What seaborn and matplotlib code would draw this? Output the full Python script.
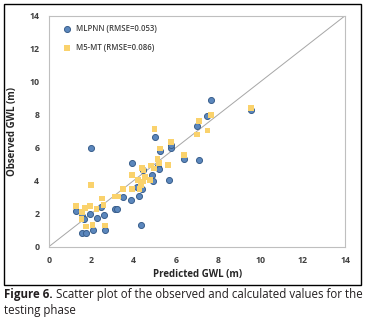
import matplotlib
matplotlib.use("Agg")
import matplotlib.pyplot as plt
import numpy as np
import pandas as pd
import seaborn as sns
from matplotlib.patches import Rectangle

# MLPNN (RMSE=0.053): predicted vs observed
mlp_pred = [1.28, 1.56, 1.67, 1.54, 1.75, 1.94, 1.97, 2.06, 2.27, 2.45, 2.58, 2.65,
            3.12, 3.21, 3.48, 3.89, 3.94, 4.14, 4.25, 4.36, 4.41, 4.46, 4.85, 4.93,
            4.99, 5.13, 5.20, 5.26, 5.65, 5.76, 5.76, 6.39, 6.99, 7.09, 7.48, 7.64, 9.56]
mlp_obs = [2.14, 1.84, 1.68, 0.85, 0.85, 1.96, 5.98, 1.03, 1.74, 2.42, 1.90, 1.01,
           2.28, 2.28, 3.01, 2.81, 5.07, 3.60, 3.09, 1.29, 3.49, 4.65, 4.32, 4.00,
           6.65, 4.87, 4.69, 5.80, 4.06, 6.00, 6.16, 5.29, 7.33, 5.27, 7.94, 8.91, 8.28]

# M5-MT (RMSE=0.086)
m5_pred = [1.29, 1.56, 1.54, 1.69, 1.75, 1.94, 1.98, 2.05, 2.24, 2.49, 2.58, 2.65,
           3.13, 3.28, 3.50, 3.91, 3.92, 4.20, 4.28, 4.36, 4.39, 4.43, 4.47, 4.54,
           4.77, 4.82, 4.96, 4.99, 5.13, 5.21, 5.26, 5.64, 5.76, 6.39, 6.98, 7.10,
           7.49, 7.65, 9.56]
m5_obs = [2.48, 2.10, 1.68, 2.34, 1.21, 2.44, 3.72, 1.33, 2.30, 2.91, 2.51, 1.27,
          3.03, 3.03, 3.47, 3.47, 4.36, 4.04, 3.49, 3.74, 4.77, 3.94, 4.61, 4.22,
          4.02, 4.91, 4.73, 7.11, 5.31, 5.05, 5.94, 4.93, 6.34, 5.54, 6.79, 7.62,
          7.03, 7.96, 8.38]

labels = ["MLPNN (RMSE=0.053)", "M5-MT (RMSE=0.086)"]
ticks = [0, 2, 4, 6, 8, 10, 12, 14]

df = pd.DataFrame({
    "pred": mlp_pred + m5_pred,
    "obs": mlp_obs + m5_obs,
    "model": [labels[0]] * len(mlp_pred) + [labels[1]] * len(m5_pred),
})

sns.set_style("white")
plt.rcParams["font.family"] = ["Open Sans", "DejaVu Sans"]

fig = plt.figure(figsize=(3.74, 3.19), dpi=100)
ax = fig.add_axes([0.131, 0.227, 0.792, 0.724])

# 1:1 line
ax.plot([0, 14], [0, 14], color="#a6a6a6", lw=0.7, zorder=1)

# blue circles first, yellow squares drawn above them (like the Excel series order)
sns.scatterplot(data=df[df["model"] == labels[0]], x="pred", y="obs", ax=ax,
                marker="o", s=19, color="#5b87bd", edgecolor="#3a5f8c", linewidth=0.7,
                zorder=2, label=labels[0])
sns.scatterplot(data=df[df["model"] == labels[1]], x="pred", y="obs", ax=ax,
                marker="s", s=17, color="#fad26c", edgecolor="none", zorder=3,
                label=labels[1])

ax.set_xlim(0, 14)
ax.set_ylim(0, 14)
ax.set_xticks(ticks)
ax.set_yticks(ticks)
ax.tick_params(axis="both", labelsize=6.3, colors="#404040", length=0, pad=7)
for lab in ax.get_xticklabels() + ax.get_yticklabels():
    lab.set_fontweight("bold")
ax.set_xlabel("Predicted GWL (m)", fontsize=7, fontweight="bold", color="#262626", labelpad=3)
ax.set_ylabel("Observed GWL (m)", fontsize=7, fontweight="bold", color="#262626", labelpad=8)
for sp in ax.spines.values():
    sp.set_color("#bfbfbf")
    sp.set_linewidth(0.8)

leg = ax.legend(loc="upper left", bbox_to_anchor=(0.02, 0.985),
                frameon=False, fontsize=5.6, handletextpad=0.1, labelspacing=1.3,
                markerscale=1.0, borderaxespad=0.2)
for t in leg.get_texts():
    t.set_color("#404040")
    t.set_fontweight("semibold")

# outer black frame of the figure panel
fig.patches.append(Rectangle((0.011, 0.108), 0.955, 0.879, transform=fig.transFigure,
                             fill=False, edgecolor="black", lw=1.0))

# caption
cap_size = 8.3
t1 = fig.text(0.011, 0.067, "Figure 6.", fontsize=cap_size, fontweight="bold",
              color="#231f20", va="baseline")
fig.canvas.draw()
bb = t1.get_window_extent(fig.canvas.get_renderer())
x2 = bb.x1 / fig.bbox.width
fig.text(x2, 0.067, " Scatter plot of the observed and calculated values for the",
         fontsize=cap_size, color="#231f20", va="baseline")
fig.text(0.011, 0.016, "testing phase", fontsize=cap_size, color="#231f20", va="baseline")

fig.savefig("out.png", dpi=100)
